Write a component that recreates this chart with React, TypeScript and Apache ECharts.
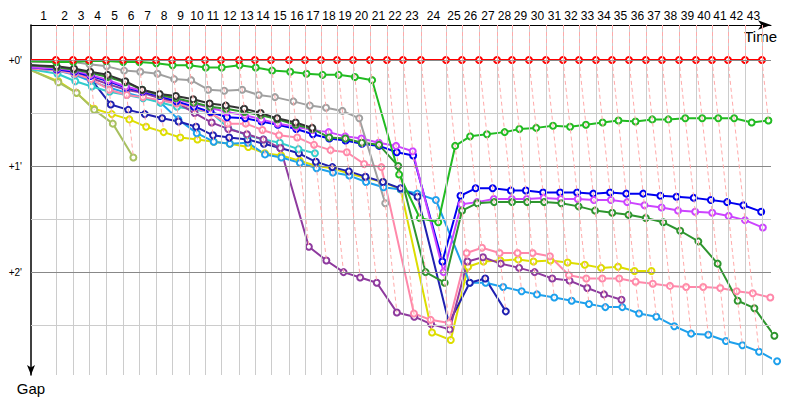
import React, { useEffect, useRef } from 'react';
import * as echarts from 'echarts';

// Leader's cumulative time (minutes) at the end of each lap (index = lap, 0 = start)
const lapEnd = [0, 2.21, 3.72, 5.13, 6.64, 8.14, 9.56, 11.06, 12.48, 13.98, 15.40,
  16.81, 18.41, 19.82, 21.24, 22.83, 24.25, 25.66, 27.08, 28.50, 30.00,
  31.50, 32.92, 34.51, 36.73, 38.14, 39.65, 41.24, 42.57, 44.07, 45.58,
  47.08, 48.50, 50.00, 51.42, 52.92, 54.42, 55.84, 57.35, 58.85, 60.27,
  61.68, 63.19, 64.69];

// Gap to the leader (minutes) at the end of each lap, index = lap
const red = [0, 0, 0, 0, 0, 0, 0, 0, 0, 0, 0, 0, 0, 0, 0, 0, 0, 0, 0, 0, 0, 0,
  0, 0, 0, 0, 0, 0, 0, 0, 0, 0, 0, 0, 0, 0, 0, 0, 0, 0, 0, 0, 0, 0];
const green = [0.01, 0.02, 0.02, 0.01, 0.01, 0.02, 0.02, 0.03, 0.05, 0.05, 0.07,
  0.07, 0.05, 0.07, 0.10, 0.11, 0.13, 0.14, 0.14, 0.16, 0.19,
  1.08, 1.49, 1.53, 0.81, 0.72, 0.70, 0.68, 0.65, 0.64, 0.62,
  0.63, 0.61, 0.59, 0.57, 0.58, 0.56, 0.56, 0.55, 0.55, 0.55,
  0.55, 0.59, 0.57];
const gray = [0.02, 0.02, 0.02, 0.04, 0.06, 0.10, 0.11, 0.13, 0.18, 0.19, 0.28,
  0.29, 0.28, 0.33, 0.35, 0.39, 0.43, 0.45, 0.48, 0.55, 1.35];
const black = [0.05, 0.06, 0.08, 0.11, 0.14, 0.20, 0.28, 0.32, 0.34, 0.37, 0.41,
  0.43, 0.46, 0.50, 0.55, 0.59, 0.64];
const darkGreen = [0.05, 0.07, 0.09, 0.12, 0.16, 0.21, 0.28, 0.33, 0.36, 0.40, 0.44,
  0.46, 0.49, 0.52, 0.56, 0.61, 0.65, 0.73, 0.74, 0.78, 0.80,
  1.00, 2.00, 2.10, 1.42, 1.35, 1.34, 1.34, 1.34, 1.34, 1.35,
  1.38, 1.42, 1.44, 1.46, 1.49, 1.53, 1.61, 1.71, 1.92, 2.27,
  2.34, 2.60];
const violet = [0.07, 0.08, 0.10, 0.14, 0.19, 0.25, 0.29, 0.33, 0.37, 0.41, 0.45,
  0.49, 0.52, 0.56, 0.60, 0.63, 0.66, 0.68, 0.72, 0.74, 0.78,
  0.81, 0.86, 2.00, 1.36, 1.34, 1.31, 1.31, 1.31, 1.30, 1.31,
  1.31, 1.32, 1.32, 1.34, 1.37, 1.39, 1.42, 1.43, 1.44, 1.47,
  1.51, 1.58];
const blue = [0.07, 0.09, 0.11, 0.15, 0.20, 0.26, 0.30, 0.34, 0.39, 0.44, 0.49,
  0.54, 0.55, 0.58, 0.61, 0.65, 0.70, 0.74, 0.76, 0.79, 0.81,
  0.87, 0.90, 1.90, 1.28, 1.21, 1.21, 1.23, 1.23, 1.25, 1.25,
  1.25, 1.26, 1.25, 1.26, 1.26, 1.28, 1.29, 1.30, 1.32, 1.34,
  1.37, 1.43];
const pink = [0.08, 0.10, 0.13, 0.18, 0.28, 0.33, 0.35, 0.38, 0.41, 0.45, 0.50,
  0.60, 0.60, 0.66, 0.71, 0.73, 0.80, 0.85, 0.87, 0.98, 1.01,
  2.39, 2.45, 2.48, 1.82, 1.77, 1.82, 1.82, 1.82, 1.85, 2.03,
  2.06, 2.06, 2.06, 2.09, 2.11, 2.13, 2.14, 2.14, 2.15, 2.18,
  2.20, 2.24];
const purple = [0.08, 0.09, 0.12, 0.17, 0.23, 0.28, 0.31, 0.36, 0.40, 0.50, 0.59,
  0.65, 0.70, 0.75, 0.83, 1.76, 1.89, 2.00, 2.05, 2.10, 2.38,
  2.42, 2.49, 2.54, 1.90, 1.86, 1.92, 1.96, 2.00, 2.06, 2.08,
  2.15, 2.21, 2.26];
const cyan = [0.09, 0.13, 0.20, 0.25, 0.30, 0.33, 0.36, 0.40, 0.44, 0.47, 0.49,
  0.64, 0.71, 0.75, 0.78, 0.84, 0.88];
const lightBlue = [0.08, 0.10, 0.14, 0.20, 0.26, 0.31, 0.35, 0.40, 0.56, 0.69, 0.77,
  0.79, 0.78, 0.89, 0.92, 0.97, 1.02, 1.06, 1.09, 1.15, 1.20,
  1.22, 1.26, 1.32, 2.10, 2.10, 2.14, 2.18, 2.21, 2.24, 2.27,
  2.30, 2.33, 2.33, 2.39, 2.42, 2.51, 2.58, 2.59, 2.65, 2.69,
  2.75, 2.84];
const navy = [0.07, 0.08, 0.12, 0.18, 0.42, 0.47, 0.51, 0.55, 0.58, 0.63, 0.71,
  0.73, 0.75, 0.79, 0.83, 0.88, 0.96, 1.01, 1.05, 1.10, 1.15,
  1.21, 1.29, 2.48, 2.10, 2.06, 2.37];
const yellow = [0.10, 0.20, 0.31, 0.46, 0.51, 0.56, 0.63, 0.68, 0.73, 0.75, 0.77,
  0.79, 0.82, 0.88, 0.90, 0.95, 1.00, 1.02, 1.07, 1.11, 1.15,
  1.22, 2.57, 2.64, 1.95, 1.90, 1.89, 1.88, 1.90, 1.89, 1.91,
  1.93, 1.96, 1.95, 1.99, 1.99];
const olive = [0.10, 0.21, 0.31, 0.47, 0.60, 0.92];

const gapTicks = [0, 1, 2];
const halfLines = [0.5, 1.5, 2.5];

const cars = [
  { name: 'yellow', color: '#dddd00', gaps: yellow },
  { name: 'olive', color: '#a8c060', gaps: olive },
  { name: 'lightBlue', color: '#1ea0ec', gaps: lightBlue },
  { name: 'navy', color: '#2020b0', gaps: navy },
  { name: 'cyan', color: '#33cccc', gaps: cyan },
  { name: 'purple', color: '#8e3a9e', gaps: purple },
  { name: 'pink', color: '#ff88aa', gaps: pink },
  { name: 'blue', color: '#0000f0', gaps: blue },
  { name: 'violet', color: '#cc44ff', gaps: violet },
  { name: 'darkGreen', color: '#2e952e', gaps: darkGreen },
  { name: 'black', color: '#333333', gaps: black },
  { name: 'gray', color: '#a0a0a0', gaps: gray },
  { name: 'green', color: '#22bb22', gaps: green },
  { name: 'red', color: '#ff0000', gaps: red },
];

const FONT = 'Liberation Sans';

export default function App() {
  const ref = useRef<HTMLDivElement>(null);
  useEffect(() => {
    document.body.style.margin = '0';
    const chart = echarts.init(ref.current!, null, { renderer: 'svg' });

    const yMin = -0.33;
    const yMax = 2.97;
    const mids = lapEnd.slice(1).map((t, i) => (lapEnd[i] + t) / 2);

    // lap "iso" lines: through every car's point for that lap
    const lapLineSegs: any[] = [];
    for (let n = 1; n < lapEnd.length; n++) {
      let gmax = 0;
      cars.forEach((c) => {
        if (c.gaps[n] !== undefined && c.gaps[n] > gmax) gmax = c.gaps[n];
      });
      lapLineSegs.push([{ coord: [lapEnd[n], yMin] }, { coord: [lapEnd[n], 0] }]);
      lapLineSegs.push([{ coord: [lapEnd[n], 0] }, { coord: [lapEnd[n] + gmax, gmax] }]);
    }

    const bgSeries = {
      type: 'line',
      z: 1,
      silent: true,
      data: [[0, 0]],
      symbol: 'none',
      lineStyle: { opacity: 0 },
      markLine: {
        silent: true,
        symbol: ['none', 'none'],
        label: { show: false },
        animation: false,
        data: [
          ...lapEnd.slice(1).map((t) => ({ xAxis: t, lineStyle: { color: '#cccccc', width: 1, type: 'solid' } })),
          ...halfLines.map((v) => ({ yAxis: v, lineStyle: { color: '#cccccc', width: 1, type: 'solid' } })),
          ...gapTicks.map((v) => ({ yAxis: v, lineStyle: { color: '#888888', width: 1, type: 'solid' } })),
        ],
      },
    };

    const dashSeries = {
      type: 'line',
      z: 1,
      silent: true,
      clip: false,
      data: [[0, 0]],
      symbol: 'none',
      lineStyle: { opacity: 0 },
      markLine: {
        silent: true,
        symbol: ['none', 'none'],
        label: { show: false },
        animation: false,
        lineStyle: { color: '#ffaaaa', width: 1, type: [4, 3] },
        data: lapLineSegs,
      },
    };

    const carSeries = cars.map((c) => ({
      type: 'line',
      name: c.name,
      z: 2,
      silent: true,
      clip: false,
      data: c.gaps.map((g, i) => ({
        value: [lapEnd[i] + g, g],
        symbol: i === 0 ? 'none' : 'emptyCircle',
      })),
      symbol: 'emptyCircle',
      symbolSize: 6,
      showAllSymbol: true,
      lineStyle: { color: c.color, width: 2 },
      itemStyle: { color: c.color, borderColor: c.color, borderWidth: 1.5 },
      emphasis: { disabled: true },
    }));

    chart.setOption({
      animation: false,
      backgroundColor: '#ffffff',
      grid: { left: 31, right: 29, top: 25, bottom: 25, containLabel: false },
      xAxis: {
        type: 'value',
        position: 'top',
        min: 0,
        max: 65.49,
        axisLine: {
          onZero: false,
          lineStyle: { color: '#000', width: 1 },
          symbol: ['none', 'arrow'],
          symbolSize: [7, 13],
        },
        axisTick: { show: false },
        splitLine: { show: false },
        axisLabel: {
          customValues: mids,
          formatter: (v: number) => {
            const idx = mids.findIndex((m) => Math.abs(m - v) < 1e-6);
            return idx >= 0 ? String(idx + 1) : '';
          },
          color: '#000',
          fontSize: 12,
          fontFamily: FONT,
          margin: 3,
        },
        name: 'Time',
        nameLocation: 'end',
        nameGap: 6,
        nameTextStyle: {
          color: '#000',
          fontSize: 15,
          fontFamily: FONT,
          align: 'right',
          verticalAlign: 'top',
          padding: [4, 0, 0, 0],
        },
      },
      yAxis: {
        type: 'value',
        inverse: true,
        min: yMin,
        max: yMax,
        axisLine: {
          onZero: false,
          lineStyle: { color: '#000', width: 1.5 },
          symbol: ['arrow', 'none'],
          symbolSize: [6, 10],
        },
        axisTick: { show: false },
        splitLine: { show: false },
        axisLabel: {
          customValues: gapTicks,
          formatter: (v: number) => `+${v}'`,
          color: '#000',
          fontSize: 10,
          fontFamily: FONT,
          margin: 9,
        },
        name: 'Gap',
        nameLocation: 'end',
        nameGap: 6,
        nameTextStyle: { color: '#000', fontSize: 15, fontFamily: FONT },
      },
      series: [bgSeries, dashSeries, ...carSeries],
    });
    return () => chart.dispose();
  }, []);
  return <div ref={ref} style={{ width: 800, height: 400 }} />;
}
